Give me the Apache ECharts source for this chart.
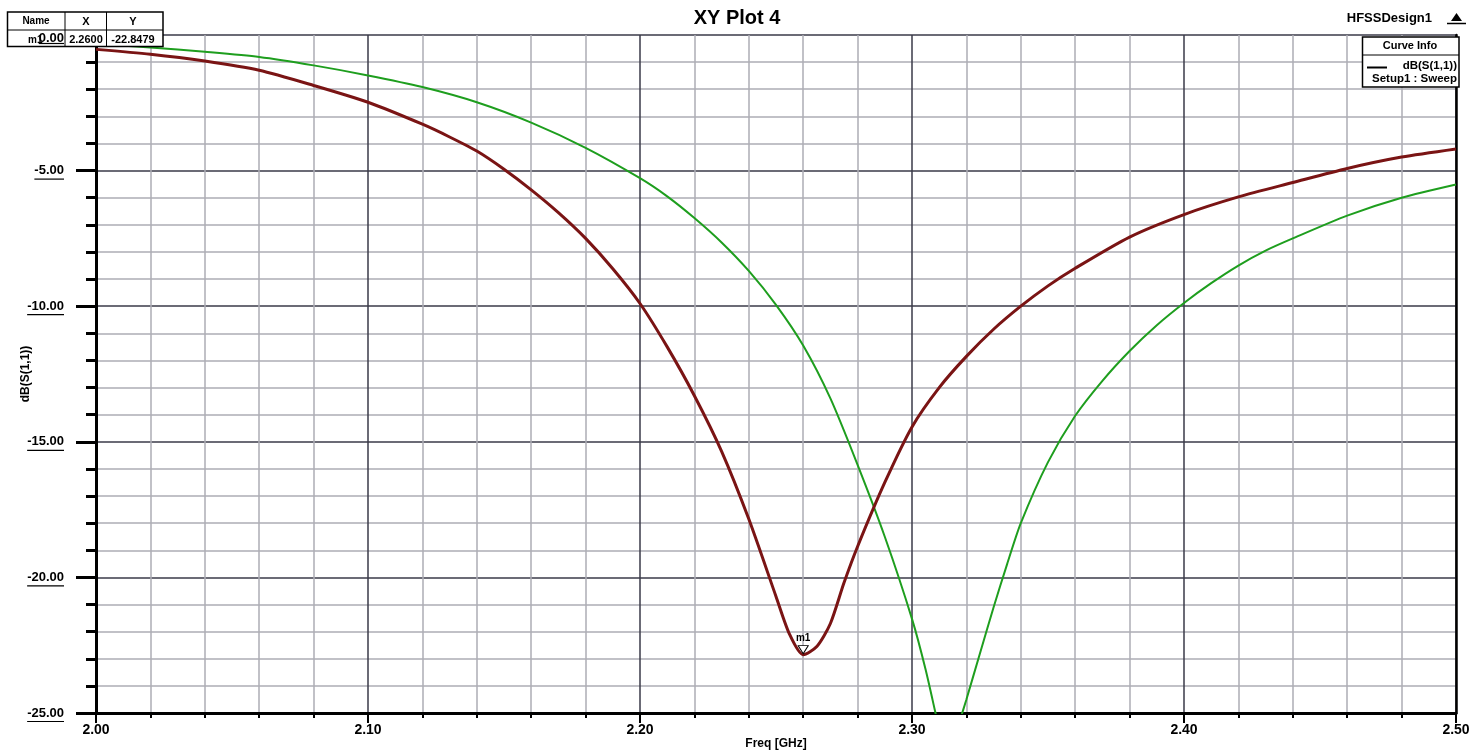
<!DOCTYPE html>
<html><head><meta charset="utf-8">
<script src="https://cdn.jsdelivr.net/npm/echarts@6/dist/echarts.min.js"></script>
<style>html,body{margin:0;padding:0;background:#fff;}#c{width:1472px;height:755px;}</style>
</head><body><div id="c"></div>
<script>
const FONT = '"Liberation Sans", Arial, Helvetica, sans-serif';

// ---- data ----
const freqRed = [2.00,2.02,2.04,2.06,2.08,2.10,2.12,2.13,2.14,2.15,2.16,2.17,2.18,2.19,2.20,2.21,2.22,2.23,2.24,2.25,2.255,2.26,2.265,2.27,2.275,2.28,2.29,2.30,2.31,2.32,2.33,2.34,2.35,2.36,2.38,2.40,2.42,2.44,2.46,2.48,2.50];
const dbRed   = [-0.53,-0.71,-0.96,-1.30,-1.86,-2.48,-3.29,-3.76,-4.28,-4.95,-5.71,-6.55,-7.50,-8.62,-9.90,-11.50,-13.30,-15.35,-17.85,-20.70,-22.10,-22.85,-22.55,-21.70,-20.20,-18.86,-16.50,-14.45,-13.00,-11.85,-10.85,-10.00,-9.25,-8.60,-7.45,-6.62,-5.97,-5.44,-4.92,-4.50,-4.20];
const freqGreen = [2.00,2.02,2.04,2.06,2.08,2.10,2.12,2.14,2.16,2.18,2.20,2.21,2.22,2.23,2.24,2.25,2.26,2.27,2.28,2.29,2.30,2.305,2.31,2.3135,2.317,2.32,2.325,2.33,2.335,2.34,2.35,2.36,2.37,2.38,2.39,2.40,2.41,2.42,2.43,2.44,2.46,2.48,2.50];
const dbGreen   = [-0.33,-0.46,-0.62,-0.81,-1.12,-1.49,-1.92,-2.48,-3.23,-4.16,-5.28,-5.95,-6.75,-7.65,-8.70,-9.95,-11.45,-13.40,-15.85,-18.50,-21.53,-23.40,-25.60,-27.00,-25.50,-24.50,-22.80,-21.10,-19.50,-18.00,-15.75,-14.04,-12.75,-11.65,-10.70,-9.88,-9.15,-8.50,-7.95,-7.50,-6.66,-6.00,-5.51];
const xTickValues = [2.00,2.10,2.20,2.30,2.40,2.50];
const yTickValues = [-25,-20,-15,-10,-5,0];
const markerName = 'm1';
const markerX = 2.26;
const markerY = -22.8479;
const tableHeader = ['Name','X','Y'];
const tableRow = ['m1','2.2600','-22.8479'];
const legendLines = ['dB(S(1,1))','Setup1 : Sweep'];

const pairs = (xs, ys) => xs.map((x, i) => [x, ys[i]]);

const chart = echarts.init(document.getElementById('c'), null, {renderer: 'canvas'});

const baseOption = {
  animation: false,
  backgroundColor: '#ffffff',
  grid: {left: 96, right: 16, top: 35, bottom: 42, containLabel: false, outerBoundsMode: 'none'},
  xAxis: {
    type: 'value', min: xTickValues[0], max: xTickValues[xTickValues.length - 1], interval: 0.1,
    axisLine: {show: true, onZero: false, lineStyle: {color: '#000', width: 3}},
    axisTick: {show: true, length: 10, lineStyle: {color: '#000', width: 2}},
    minorTick: {show: true, splitNumber: 5, length: 5, lineStyle: {color: '#000', width: 2}},
    splitLine: {show: true, lineStyle: {color: '#3a3a48', width: 1.5}},
    minorSplitLine: {show: true, lineStyle: {color: '#adadb5', width: 1.5}},
    axisLabel: {formatter: v => v.toFixed(2), fontWeight: 'bold', fontSize: 14, color: '#000', margin: 10, fontFamily: FONT, showMinLabel: true, showMaxLabel: true},
    name: 'Freq [GHz]', nameLocation: 'middle', nameGap: 25, nameMoveOverlap: false,
    nameTextStyle: {fontWeight: 'bold', fontSize: 12, color: '#000', fontFamily: FONT}
  },
  yAxis: [{
    type: 'value', min: yTickValues[0], max: yTickValues[yTickValues.length - 1], interval: 5,
    axisLine: {show: true, onZero: false, lineStyle: {color: '#000', width: 3}},
    axisTick: {show: true, length: 20, lineStyle: {color: '#000', width: 3}},
    minorTick: {show: true, splitNumber: 5, length: 10, lineStyle: {color: '#000', width: 3}},
    splitLine: {show: true, lineStyle: {color: '#3a3a48', width: 1.5}},
    minorSplitLine: {show: true, lineStyle: {color: '#adadb5', width: 1.5}},
    axisLabel: {formatter: v => (v === 0 ? '' : v.toFixed(2)), fontWeight: 'bold', fontSize: 13, color: '#000', margin: 32, padding: [6, 0, 0, 0], fontFamily: FONT, showMinLabel: true, showMaxLabel: true},
    name: 'dB(S(1,1))', nameLocation: 'middle', nameGap: 64, nameRotate: 90, nameMoveOverlap: false,
    nameTextStyle: {fontWeight: 'bold', fontSize: 12, color: '#000', fontFamily: FONT}
  }, {
    type: 'value', position: 'right', min: yTickValues[0], max: yTickValues[yTickValues.length - 1], interval: 5,
    axisLine: {show: true, onZero: false, lineStyle: {color: '#000', width: 2.5}},
    axisTick: {show: false}, axisLabel: {show: false}, splitLine: {show: false}
  }],
  series: [{
    name: 'dB(S(1,1))', type: 'line', data: pairs(freqRed, dbRed),
    showSymbol: false, smooth: 0.25, clip: true, z: 3,
    lineStyle: {color: '#7a1414', width: 3},
    markPoint: {
      symbol: 'triangle', symbolRotate: 180, symbolSize: [10, 8], symbolOffset: [0, -5],
      itemStyle: {color: '#ffffff', borderColor: '#000', borderWidth: 1},
      label: {show: true, position: 'top', distance: 2, formatter: markerName, fontSize: 10, fontWeight: 'bold', color: '#000', fontFamily: FONT},
      data: [{name: markerName, coord: [markerX, markerY]}]
    }
  }, {
    name: 'dB(S(1,1)) 2', type: 'line', data: pairs(freqGreen, dbGreen),
    showSymbol: false, smooth: 0.25, clip: true, z: 2,
    lineStyle: {color: '#1e9e1e', width: 2}
  }]
};
chart.setOption(baseOption);

// ---- annotation graphics ----
const g = [];
const txt = (x, y, text, size, align, extra) => Object.assign({
  type: 'text', x: x, y: y, z: 10,
  style: {text: text, fill: '#000', font: 'bold ' + size + 'px ' + FONT, textAlign: align || 'left', textVerticalAlign: 'middle'}
}, extra || {});

// title and design name
g.push(txt(737, 18, 'XY Plot 4', 20, 'center'));
g.push(txt(1432, 18, 'HFSSDesign1', 13, 'right'));
// logo
g.push({type: 'polygon', z: 10, shape: {points: [[1451, 21], [1456.5, 13], [1462, 21]]}, style: {fill: '#000'}});
g.push({type: 'line', z: 10, shape: {x1: 1447, y1: 23.5, x2: 1466, y2: 23.5}, style: {stroke: '#000', lineWidth: 1.5}});

// Curve Info legend box
g.push({type: 'rect', z: 10, shape: {x: 1362.5, y: 37, width: 96.5, height: 50}, style: {fill: '#fff', stroke: '#000', lineWidth: 1.5}});
g.push({type: 'line', z: 10, shape: {x1: 1362.5, y1: 55, x2: 1459, y2: 55}, style: {stroke: '#000', lineWidth: 1}});
g.push(txt(1410, 46, 'Curve Info', 11, 'center'));
g.push({type: 'line', z: 10, shape: {x1: 1367, y1: 67.5, x2: 1387, y2: 67.5}, style: {stroke: '#000', lineWidth: 2}});
g.push(txt(1457, 66, legendLines[0], 11.5, 'right'));
g.push(txt(1457, 78.5, legendLines[1], 11.5, 'right'));

// marker table
g.push({type: 'rect', z: 10, shape: {x: 7.5, y: 12, width: 155.5, height: 34.5}, style: {fill: '#fff', stroke: '#000', lineWidth: 1.5}});
g.push({type: 'line', z: 10, shape: {x1: 7.5, y1: 30, x2: 163, y2: 30}, style: {stroke: '#000', lineWidth: 1}});
g.push({type: 'line', z: 10, shape: {x1: 65, y1: 12, x2: 65, y2: 46.5}, style: {stroke: '#000', lineWidth: 1}});
g.push({type: 'line', z: 10, shape: {x1: 106.5, y1: 12, x2: 106.5, y2: 46.5}, style: {stroke: '#000', lineWidth: 1}});
g.push(txt(36, 21.5, tableHeader[0], 10, 'center'));
g.push(txt(86, 21.5, tableHeader[1], 11, 'center'));
g.push(txt(133, 21.5, tableHeader[2], 11, 'center'));
g.push(txt(28, 40, tableRow[0], 10, 'left'));
g.push(txt(86, 40, tableRow[1], 11, 'center'));
g.push(txt(133, 40, tableRow[2], 11, 'center'));

// y tick label underlines (+ the 0.00 label drawn above the table)
const cvs = document.createElement('canvas').getContext('2d');
cvs.font = 'bold 13px ' + FONT;
const labelRight = 96 - 32;
yTickValues.forEach(v => {
  const py = chart.convertToPixel({yAxisIndex: 0}, v);
  const s = v.toFixed(2);
  const w = cvs.measureText(s).width;
  if (v === 0) {
    g.push(txt(labelRight, py + 3, s, 13, 'right', {z: 12}));
  }
  g.push({type: 'line', z: 12, shape: {x1: labelRight - w, y1: py + 8.5, x2: labelRight, y2: py + 8.5}, style: {stroke: '#000', lineWidth: 1.2}});
});

chart.setOption({graphic: g});
</script>
</body></html>
